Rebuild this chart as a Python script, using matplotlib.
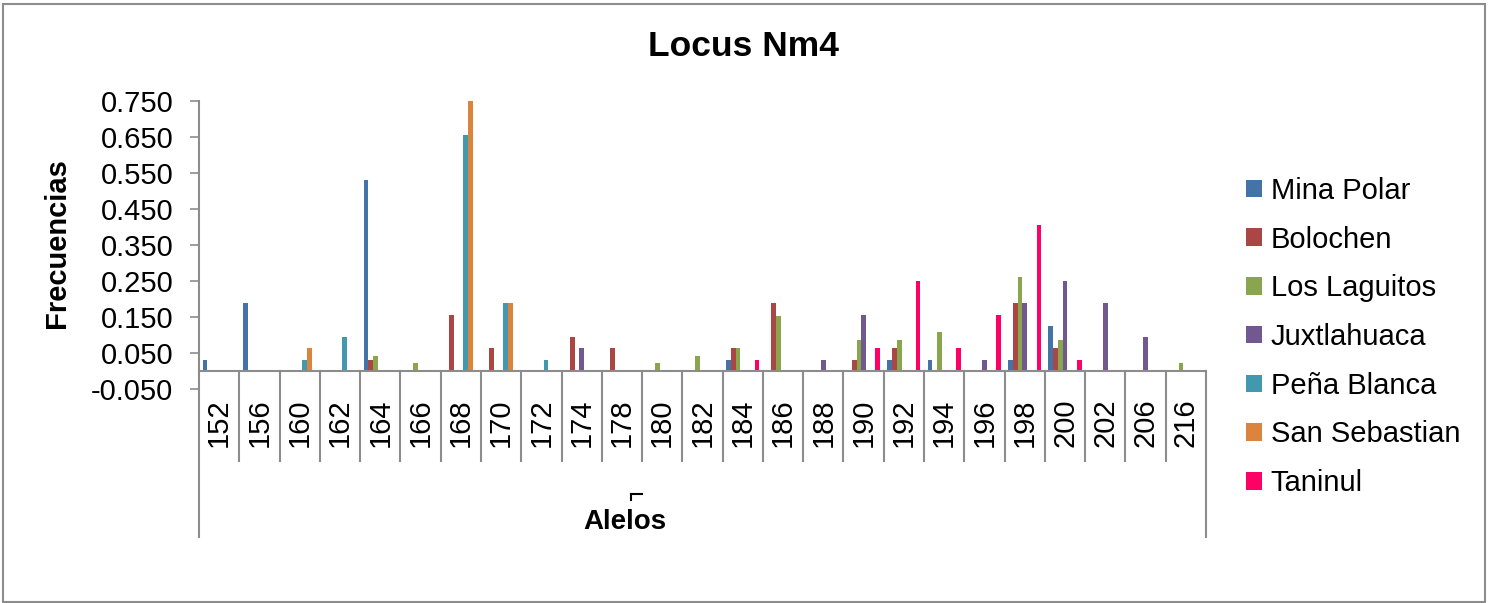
import numpy as np
import matplotlib
matplotlib.use("Agg")
import matplotlib.pyplot as plt
from matplotlib.patches import Rectangle
from matplotlib.lines import Line2D

plt.rcParams['font.family'] = ['Liberation Sans', 'DejaVu Sans']

alelos = ['152', '156', '160', '162', '164', '166', '168', '170', '172', '174', '178', '180', '182',
          '184', '186', '188', '190', '192', '194', '196', '198', '200', '202', '206', '216']

mina_polar    = [0.031, 0.188, 0, 0, 0.531, 0, 0, 0, 0, 0, 0, 0, 0,
                 0.031, 0, 0, 0, 0.031, 0.031, 0, 0.031, 0.125, 0, 0, 0]
bolochen      = [0, 0, 0, 0, 0.031, 0, 0.156, 0.063, 0, 0.094, 0.063, 0, 0,
                 0.063, 0.188, 0, 0.031, 0.063, 0, 0, 0.188, 0.063, 0, 0, 0]
los_laguitos  = [0, 0, 0, 0, 0.043, 0.022, 0, 0, 0, 0, 0, 0.022, 0.043,
                 0.065, 0.152, 0, 0.087, 0.087, 0.109, 0, 0.261, 0.087, 0, 0, 0.022]
juxtlahuaca   = [0, 0, 0, 0, 0, 0, 0, 0, 0, 0.063, 0, 0, 0,
                 0, 0, 0.031, 0.156, 0, 0, 0.031, 0.188, 0.250, 0.188, 0.094, 0]
pena_blanca   = [0, 0, 0.031, 0.094, 0, 0, 0.656, 0.188, 0.031, 0, 0, 0, 0,
                 0, 0, 0, 0, 0, 0, 0, 0, 0, 0, 0, 0]
san_sebastian = [0, 0, 0.063, 0, 0, 0, 0.750, 0.188, 0, 0, 0, 0, 0,
                 0, 0, 0, 0, 0, 0, 0, 0, 0, 0, 0, 0]
taninul       = [0, 0, 0, 0, 0, 0, 0, 0, 0, 0, 0, 0, 0,
                 0.031, 0, 0, 0.063, 0.250, 0.063, 0.156, 0.406, 0.031, 0, 0, 0]

series = [('Mina Polar', mina_polar), ('Bolochen', bolochen), ('Los Laguitos', los_laguitos),
          ('Juxtlahuaca', juxtlahuaca), ('Peña Blanca', pena_blanca),
          ('San Sebastian', san_sebastian), ('Taninul', taninul)]
colors = ['#4572A7', '#AA4643', '#89A54E', '#71588F', '#4198AF', '#DB843D', '#FF0066']

W, H = 1488, 603
fig = plt.figure(figsize=(W / 100, H / 100), dpi=100)
ax = fig.add_axes([199 / W, 1 - 389 / H, 1007 / W, 288 / H])

x = np.arange(len(alelos))
bw = 1 / 8.5
for i, ((name, vals), c) in enumerate(zip(series, colors)):
    ax.bar(x + (i - 3) * bw, vals, width=bw, color=c, label=name)

gray = '#8C8C8C'
ax.set_xlim(-0.5, len(alelos) - 0.5)
ax.set_ylim(-0.05, 0.75)
ax.set_yticks(np.arange(-0.05, 0.751, 0.1))
ax.set_yticklabels([f'{v:.3f}' for v in np.arange(-0.05, 0.751, 0.1)], fontsize=21)
ax.tick_params(axis='y', direction='out', length=6.5, width=1.2, color=gray, pad=12)
ax.set_xticks(x)
ax.set_xticklabels(alelos, rotation=90, fontsize=21)
ax.tick_params(axis='x', length=0, pad=7)
for s in ['top', 'right', 'bottom', 'left']:
    ax.spines[s].set_visible(False)

# zero line and category boxes
ax.axhline(0, color=gray, lw=1.5)
for k in range(len(alelos) + 1):
    bottom = -0.461 if k in (0, len(alelos)) else -0.25
    top = 0.75 if k == 0 else 0
    ax.plot([k - 0.5, k - 0.5], [top, bottom], color=gray, lw=1.5, clip_on=False)

fig.text(0.5, 1 - 46 / H, 'Locus Nm4', ha='center', va='center', fontsize=25.5, fontweight='bold')
fig.text(57 / W, 1 - 243 / H, 'Frecuencias', ha='center', va='center', rotation=90,
         fontsize=21, fontweight='bold')
fig.text(625 / W, 1 - 522 / H, 'Alelos', ha='center', va='center', fontsize=20, fontweight='bold')
# small stray mark above the axis title
fig.add_artist(Line2D([631 / W, 642 / W], [1 - 494 / H, 1 - 494 / H], color='black', lw=1.5))
fig.add_artist(Line2D([631 / W, 631 / W], [1 - 494 / H, 1 - 500 / H], color='black', lw=1.5))

ax.legend(loc='center left', bbox_to_anchor=(1246 / W, 1 - 337 / H), bbox_transform=fig.transFigure,
          frameon=False, fontsize=21, handlelength=0.55, handleheight=0.55, handletextpad=0.3,
          labelspacing=0.71, borderpad=0, borderaxespad=0)

fig.add_artist(Rectangle((3 / W, 1 / H), 1482 / W, 598 / H, transform=fig.transFigure,
                         fill=False, edgecolor=gray, lw=1.5))

fig.savefig('out.png', dpi=100)
